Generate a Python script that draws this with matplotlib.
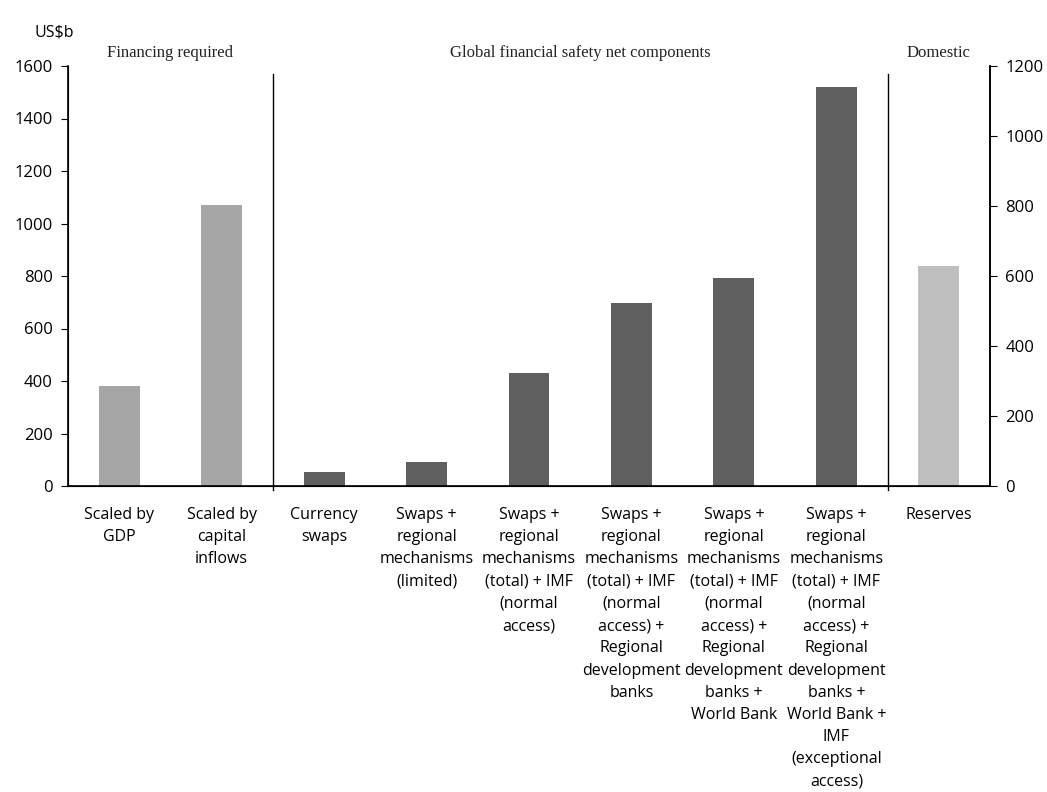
import matplotlib.pyplot as plt
import matplotlib.transforms as mtransforms

categories = [
    "Scaled by\nGDP",
    "Scaled by\ncapital\ninflows",
    "Currency\nswaps",
    "Swaps +\nregional\nmechanisms\n(limited)",
    "Swaps +\nregional\nmechanisms\n(total) + IMF\n(normal\naccess)",
    "Swaps +\nregional\nmechanisms\n(total) + IMF\n(normal\naccess) +\nRegional\ndevelopment\nbanks",
    "Swaps +\nregional\nmechanisms\n(total) + IMF\n(normal\naccess) +\nRegional\ndevelopment\nbanks +\nWorld Bank",
    "Swaps +\nregional\nmechanisms\n(total) + IMF\n(normal\naccess) +\nRegional\ndevelopment\nbanks +\nWorld Bank +\nIMF\n(exceptional\naccess)",
    "Reserves",
]
values = [381, 1070, 53, 91, 430, 697, 792, 1520, 838]
groups = ["Financing required", "Financing required",
          "Global financial safety net components", "Global financial safety net components",
          "Global financial safety net components", "Global financial safety net components",
          "Global financial safety net components", "Global financial safety net components",
          "Domestic"]
group_colors = {
    "Financing required": "#a6a6a6",
    "Global financial safety net components": "#5f5f5f",
    "Domestic": "#bfbfbf",
}
left_ticks = [0, 200, 400, 600, 800, 1000, 1200, 1400, 1600]
right_ticks = [0, 200, 400, 600, 800, 1000, 1200]

plt.rcParams['font.family'] = ['Open Sans', 'DejaVu Sans']

fig = plt.figure(figsize=(10.47, 7.92), dpi=100)
ax = fig.add_axes([68 / 1047, 1 - 486 / 792, (990 - 68) / 1047, (486 - 66) / 792])

x = list(range(len(categories)))
colors = [group_colors[g] for g in groups]
ax.bar(x, values, width=0.4, color=colors, zorder=2)

ax.set_xlim(-0.5, len(categories) - 0.5)
ax.set_ylim(0, 1600)
ax.set_yticks(left_ticks)
ax.tick_params(axis='y', direction='out', length=5, labelsize=12, pad=6)
ax.set_xticks(x)
ax.set_xticklabels(categories, fontsize=11.5, linespacing=1.52, va='top')
ax.tick_params(axis='x', length=0, pad=15)
ax.spines['top'].set_visible(False)
for s in ['left', 'bottom', 'right']:
    ax.spines[s].set_linewidth(1.2)

ax2 = ax.twinx()
ax2.set_ylim(0, 1200)
ax2.set_yticks(right_ticks)
ax2.tick_params(axis='y', direction='out', length=5, labelsize=12, pad=6)
ax2.spines['top'].set_visible(False)
ax2.spines['right'].set_linewidth(1.2)

# group separators and headers
trans = mtransforms.blended_transform_factory(ax.transData, ax.transAxes)
bounds = []
start = 0
for i in range(1, len(groups) + 1):
    if i == len(groups) or groups[i] != groups[start]:
        bounds.append((start, i - 1, groups[start]))
        start = i
for k, (a, b, name) in enumerate(bounds):
    if k > 0:
        ax.plot([a - 0.5, a - 0.5], [-0.01, 0.98], transform=trans,
                color='black', lw=1.0, clip_on=False)
    lo = a - 0.5
    hi = min(b + 0.5, len(categories) - 0.5)
    ax.text((lo + hi) / 2, 1.012, name, transform=trans, ha='center', va='bottom',
            fontsize=12, color='#222222', family=['Liberation Serif', 'DejaVu Serif'])

fig.text(35 / 1047, 1 - 33 / 792, "US$b", fontsize=11.5, va='center', ha='left')

fig.savefig("out.png", dpi=100)
